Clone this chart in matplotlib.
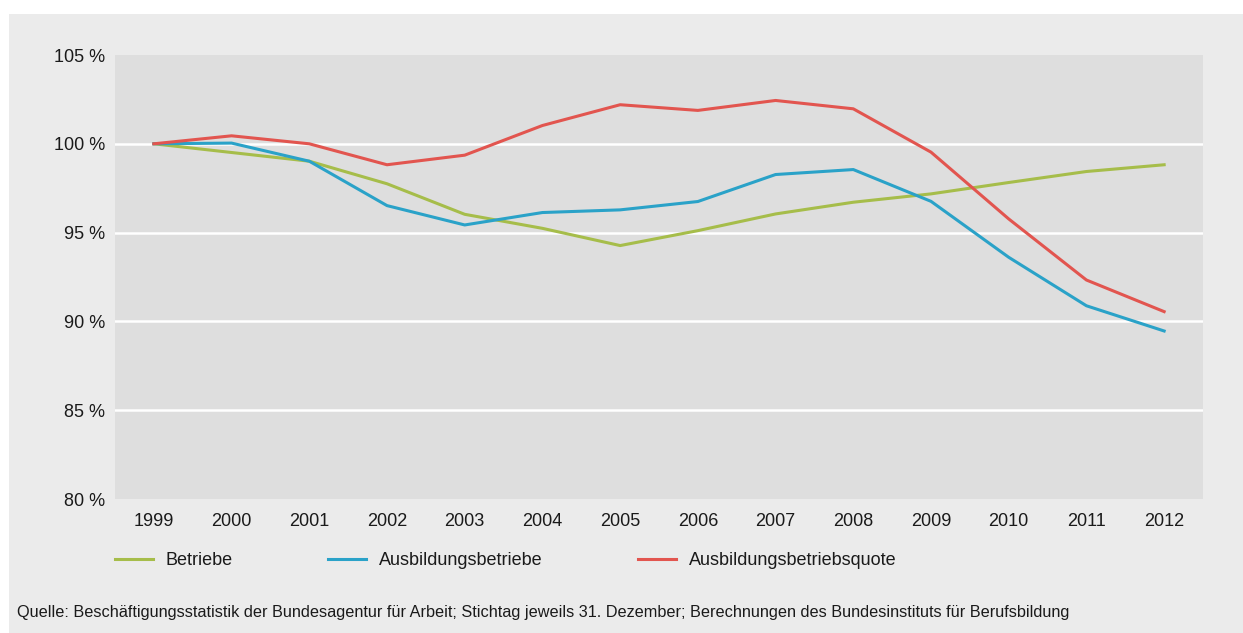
import matplotlib.pyplot as plt
import matplotlib.patches as mpatches
import numpy as np

plt.rcParams['font.family'] = ['Liberation Sans', 'DejaVu Sans']

# Werte (Index 1999 = 100 %)
jahre = [1999, 2000, 2001, 2002, 2003, 2004, 2005, 2006, 2007, 2008, 2009, 2010, 2011, 2012]
betriebe = [100.0, 99.51, 99.02, 97.75, 96.03, 95.24, 94.27, 95.11, 96.05, 96.71, 97.18, 97.82, 98.44, 98.82]
ausbildungsbetriebe = [100.0, 100.04, 99.02, 96.52, 95.43, 96.13, 96.28, 96.75, 98.27, 98.55, 96.76, 93.61, 90.88, 89.46]
quote = [100.0, 100.45, 100.0, 98.82, 99.36, 101.03, 102.2, 101.88, 102.44, 101.97, 99.53, 95.77, 92.33, 90.55]
y_ticks = [80, 85, 90, 95, 100, 105]

W, H = 1243, 633
fig = plt.figure(figsize=(W / 100, H / 100), dpi=100)
fig.patch.set_facecolor('white')
# grauer Hintergrundkasten
fig.patches.append(mpatches.Rectangle((9 / W, 0), 1 - 9 / W, 1 - 14 / H,
                                      transform=fig.transFigure, facecolor='#ebebeb',
                                      edgecolor='none', zorder=-10))

ax = fig.add_axes([115 / W, 1 - 499 / H, (1203 - 115) / W, (499 - 55) / H])
ax.set_zorder(1)
ax.set_facecolor('#dedede')

x = np.arange(len(jahre))
ax.plot(x, betriebe, color='#a6bd4a', lw=2.2, label='Betriebe', zorder=3)
ax.plot(x, ausbildungsbetriebe, color='#2aa2c8', lw=2.2, label='Ausbildungsbetriebe', zorder=3)
ax.plot(x, quote, color='#e2554f', lw=2.2, label='Ausbildungsbetriebsquote', zorder=3)

ax.set_ylim(80, 105)
ax.set_xlim(-0.5, len(jahre) - 0.5)
ax.set_yticks(y_ticks)
ax.set_yticklabels([f'{v} %' for v in y_ticks])
ax.set_xticks(x)
ax.set_xticklabels([str(j) for j in jahre])
ax.grid(axis='y', color='white', lw=1.8)
ax.set_axisbelow(True)
# keine Linien an Ober- und Unterkante
gl = ax.get_ygridlines()
gl[0].set_visible(False)
gl[-1].set_visible(False)
for s in ax.spines.values():
    s.set_visible(False)
ax.tick_params(length=0, labelsize=13, colors='#1a1a1a')
ax.tick_params(axis='y', pad=7)
ax.tick_params(axis='x', pad=10)

leg = ax.legend(loc='upper left', bbox_to_anchor=(0, -0.12), ncol=3, frameon=False,
                fontsize=13, handlelength=2.1, handletextpad=0.7, columnspacing=5.3,
                borderaxespad=0, borderpad=0)
for t in leg.get_texts():
    t.set_color('#1a1a1a')

fig.text(17 / W, 1 - 613 / H,
         'Quelle: Beschäftigungsstatistik der Bundesagentur für Arbeit; Stichtag jeweils 31. Dezember; '
         'Berechnungen des Bundesinstituts für Berufsbildung',
         fontsize=11.7, va='center', ha='left', color='#1a1a1a')

fig.savefig('out.png', dpi=100)
